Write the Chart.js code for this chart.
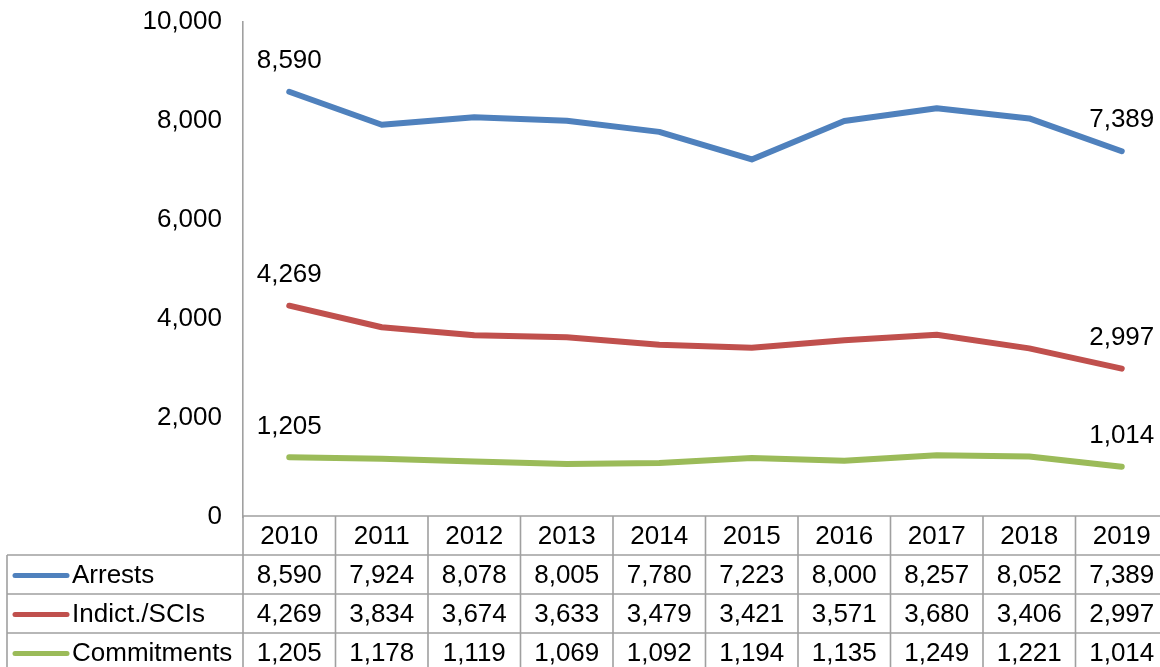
<!DOCTYPE html>
<html>
<head>
<meta charset="utf-8">
<script src="https://cdn.jsdelivr.net/npm/chart.js@4.4.1/dist/chart.umd.min.js"></script>
<style>
  html, body { margin: 0; padding: 0; background: #fff; overflow: hidden; }
  #wrap { width: 1160px; height: 667px; overflow: hidden; }
</style>
</head>
<body>
<div id="wrap"><canvas id="chart" width="1168" height="667"></canvas></div>
<script>
// chart values
const years = ['2010', '2011', '2012', '2013', '2014', '2015', '2016', '2017', '2018', '2019'];
const arrests = [8590, 7924, 8078, 8005, 7780, 7223, 8000, 8257, 8052, 7389];
const indictments = [4269, 3834, 3674, 3633, 3479, 3421, 3571, 3680, 3406, 2997];
const commitments = [1205, 1178, 1119, 1069, 1092, 1194, 1135, 1249, 1221, 1014];
const seriesNames = ['Arrests', 'Indict./SCIs', 'Commitments'];
const yTicks = [0, 2000, 4000, 6000, 8000, 10000];

const colors = ['#4F81BD', '#C0504D', '#9BBB59'];
const FONT = "'Liberation Sans', Arial, sans-serif";
const FS = 26;
const gridColor = '#a0a0a0';
const fmt = v => v.toLocaleString('en-US');

// end-point value labels
const endLabels = {
  id: 'endLabels',
  afterDatasetsDraw(chart) {
    const ctx = chart.ctx;
    ctx.save();
    ctx.font = FS + 'px ' + FONT;
    ctx.fillStyle = '#000';
    ctx.textAlign = 'center';
    ctx.textBaseline = 'middle';
    chart.data.datasets.forEach((ds, i) => {
      const meta = chart.getDatasetMeta(i);
      [0, ds.data.length - 1].forEach(j => {
        const p = meta.data[j];
        ctx.fillText(fmt(ds.data[j]), p.x, p.y - 31);
      });
    });
    ctx.restore();
  }
};

// data table under the plot
const dataTable = {
  id: 'dataTable',
  afterDraw(chart) {
    const ctx = chart.ctx;
    const area = chart.chartArea;
    const x = chart.scales.x;
    const rowH = 39;
    const top = area.bottom - 1;
    const colW = (area.right - area.left) / years.length;
    const tableLeft = 7;
    const nRows = chart.data.datasets.length + 1;
    ctx.save();
    ctx.strokeStyle = gridColor;
    ctx.lineWidth = 1.6;
    ctx.beginPath();
    ctx.moveTo(area.left, top);
    ctx.lineTo(area.right, top);
    for (let r = 1; r <= nRows; r++) {
      ctx.moveTo(tableLeft, top + r * rowH);
      ctx.lineTo(area.right, top + r * rowH);
    }
    ctx.moveTo(tableLeft, top + rowH);
    ctx.lineTo(tableLeft, top + nRows * rowH);
    for (let c = 0; c <= years.length; c++) {
      const cx = area.left + c * colW;
      ctx.moveTo(cx, top);
      ctx.lineTo(cx, top + nRows * rowH);
    }
    ctx.stroke();

    ctx.font = FS + 'px ' + FONT;
    ctx.fillStyle = '#000';
    ctx.textBaseline = 'middle';
    ctx.textAlign = 'center';
    years.forEach((y, i) => {
      ctx.fillText(y, x.getPixelForValue(i), top + rowH / 2 + 1);
    });
    chart.data.datasets.forEach((ds, r) => {
      const cy = top + (r + 1.5) * rowH + 1;
      ctx.textAlign = 'center';
      ds.data.forEach((v, i) => {
        ctx.fillText(fmt(v), x.getPixelForValue(i), cy);
      });
      ctx.strokeStyle = ds.borderColor;
      ctx.lineWidth = 5;
      ctx.lineCap = 'round';
      ctx.beginPath();
      ctx.moveTo(15, cy);
      ctx.lineTo(67, cy);
      ctx.stroke();
      ctx.textAlign = 'left';
      ctx.fillText(ds.label, 72, cy);
    });
    ctx.restore();
  }
};

const seriesData = [arrests, indictments, commitments];

new Chart(document.getElementById('chart'), {
  type: 'line',
  data: {
    labels: years,
    datasets: seriesData.map((d, i) => ({
      label: seriesNames[i],
      data: d,
      borderColor: colors[i],
      backgroundColor: colors[i],
      borderWidth: 6,
      borderCapStyle: 'round',
      borderJoinStyle: 'round',
      pointRadius: 0,
      tension: 0,
      fill: false
    }))
  },
  options: {
    responsive: false,
    animation: false,
    layout: { padding: { top: 22, bottom: 150, left: 0, right: 0 } },
    plugins: {
      legend: { display: false },
      tooltip: { enabled: false }
    },
    scales: {
      x: { type: 'category', offset: true, display: false },
      y: {
        min: 0,
        max: 10000,
        afterBuildTicks: s => { s.ticks = yTicks.map(v => ({ value: v })); },
        afterFit: s => { s.width = 243; s.paddingTop = 0; s.paddingBottom = 0; },
        grid: { display: false, drawTicks: false },
        border: { display: true, color: gridColor, width: 1.6 },
        ticks: {
          padding: 21,
          color: '#000',
          font: { family: FONT, size: FS },
          callback: v => fmt(v)
        }
      }
    }
  },
  plugins: [endLabels, dataTable]
});
</script>
</body>
</html>
